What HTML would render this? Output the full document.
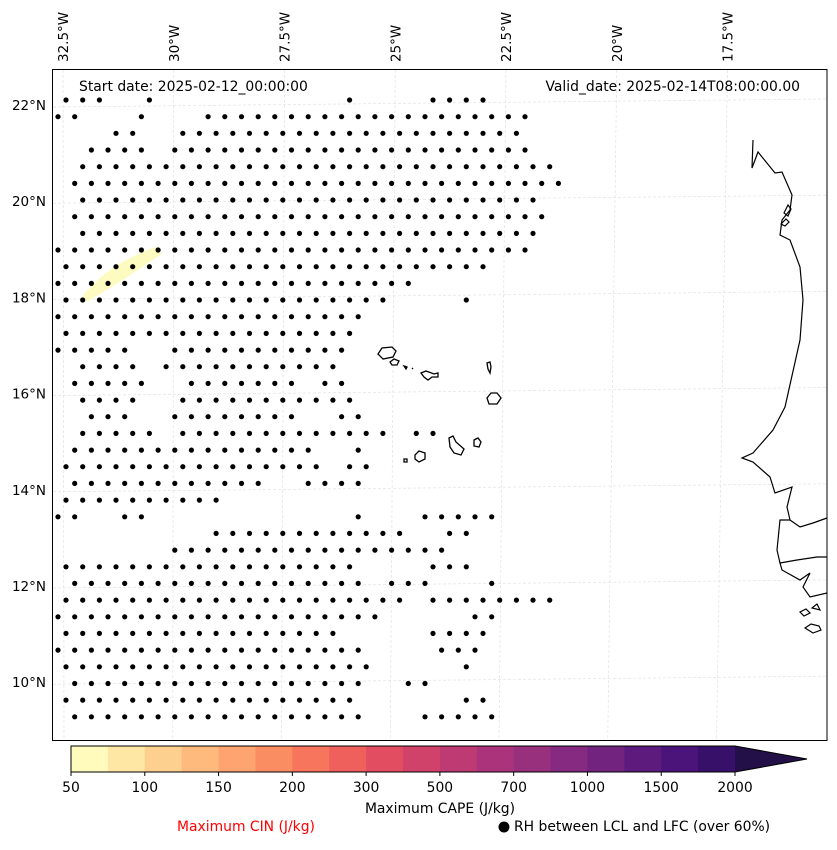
<!DOCTYPE html>
<html><head><meta charset="utf-8">
<style>
body{margin:0;background:#fff;}
svg text{font-family:"DejaVu Sans","Liberation Sans",sans-serif;}
</style></head>
<body>
<svg id="chart" width="837" height="845" viewBox="0 0 837 845" xmlns="http://www.w3.org/2000/svg">
<g id="grid" stroke="#e2e2e2" stroke-width="0.7" stroke-dasharray="3,2" fill="none"></g>
<path d="M88,298 C100,290 115,282 128,273 C140,265 150,258 158,253 L156,250 C140,256 125,263 112,272 C100,281 92,290 86,296 Z" fill="#fdfbc0" stroke="#fdfbc0" stroke-width="6" stroke-linejoin="round"/>
<g id="dots" fill="#000"></g>
<g fill="none" stroke="#000" stroke-width="1.2">
<path d="M753,140 L752,168 L758,152 L775,173 L782,172 L792,195 L790,210 L782,220 L780,235 L790,240 L800,267 L803,300 L800,340 L785,407 L773,430 L753,453 L742,458 L753,462 L770,477 L775,493 L792,487 L787,507 L790,520 L800,527 L813,523 L827,518"/>
<path d="M790,520 L780,520 L777,550 L780,563 L797,560 L817,557 L827,557"/>
<path d="M780,563 L782,570 L800,580 L810,573 L803,587 L810,597 L827,593"/>
<path d="M800,612 l6,-3 l4,4 l-6,3z M812,608 l5,-4 l3,6z M805,628 l6,-4 l8,2 l2,4 l-8,3z"/>
<path d="M784,213 l4,-8 l3,4 l-3,7z M781,224 l5,-5 l3,3 l-4,4z"/>
</g>
<g fill="none" stroke="#000" stroke-width="1.3">
<path d="M378,354 l4,-6 l10,-1 l4,4 l-3,6 l-10,2z"/>
<path d="M390,362 l4,-3 l5,2 l-2,4 l-5,0z"/>
<path d="M404,366 l3,1 l-1,2z M412,368 l1,1z"/>
<path d="M421,373 l5,-2 l8,3 l4,-1 l0,4 l-6,0 l-4,3 l-4,-3z"/>
<path d="M487,363 l3,-1 l1,5 l-1,6 l-2,-4z"/>
<path d="M487,398 l4,-5 l6,0 l4,5 l-4,6 l-8,0z"/>
<path d="M449,438 l4,-2 l3,6 l8,7 l-3,6 l-7,-2 l-4,-6z"/>
<path d="M474,440 l4,-2 l3,4 l-2,5 l-5,-1z"/>
<path d="M415,455 l4,-4 l6,2 l0,6 l-6,3 l-4,-3z"/>
<path d="M404,459 l3,0 l0,3 l-3,0z"/>
</g>
<rect x="52.5" y="69.5" width="774.5" height="671" fill="none" stroke="#000" stroke-width="1"/>
<g id="lonlabels" font-size="13.5" fill="#000"></g>
<g id="latlabels" font-size="13.5" fill="#000"></g>
<text x="79" y="91" font-size="13.9">Start date: 2025-02-12_00:00:00</text>
<text x="800" y="91" font-size="13.9" text-anchor="end">Valid_date: 2025-02-14T08:00:00.00</text>
<g id="cbar"></g>
<text x="440" y="813" font-size="13.9" text-anchor="middle">Maximum CAPE (J/kg)</text>
<text x="246" y="831" font-size="13.9" fill="#ff0000" text-anchor="middle">Maximum CIN (J/kg)</text>
<circle cx="504" cy="827" r="5.5" fill="#000"/>
<text x="514" y="831" font-size="13.9">RH between LCL and LFC (over 60%)</text>
</svg>
<script>
const NS="http://www.w3.org/2000/svg";
const rowRanges=[
[[66,100],[150,150],[350,350],[433,483]],
[[58,75],[141,141],[208,533]],
[[116,133],[183,516]],
[[91,141],[175,533]],
[[83,550]],
[[75,558]],
[[83,541]],
[[75,541]],
[[83,533]],
[[58,525]],
[[66,483]],
[[58,408]],
[[66,391],[466,466]],
[[58,366]],
[[66,350]],
[[58,125],[175,350]],
[[75,141],[166,341]],
[[75,141],[191,291],[325,341]],
[[83,141],[183,333],[350,358]],
[[91,125],[175,300],[341,358]],
[[83,150],[183,383],[416,433]],
[[75,316],[350,366]],
[[66,316],[350,366]],
[[66,266],[300,366]],
[[66,216]],
[[58,75],[125,141],[350,366],[425,491]],
[[208,408],[441,466]],
[[175,441]],
[[66,358],[375,375],[433,466]],
[[75,358],[391,425],[491,491]],
[[66,400],[433,500],[516,550]],
[[58,375],[466,491]],
[[66,333],[433,491]],
[[58,366],[441,483]],
[[66,366],[466,475]],
[[75,366],[408,425]],
[[66,358],[458,491]],
[[75,358],[425,491]]
];
const latTicks=["22°N","20°N","18°N","16°N","14°N","12°N","10°N"];
const latVals=[22,20,18,16,14,12,10];
const lonTicks=["32.5°W","30°W","27.5°W","25°W","22.5°W","20°W","17.5°W"];
const lonVals=[-32.5,-30,-27.5,-25,-22.5,-20,-17.5];
const cbarBounds=[50,75,100,125,150,175,200,250,300,400,500,600,700,800,1000,1250,1500,1750,2000];
const cbarLabels=[50,100,150,200,300,500,700,1000,1500,2000];
const cbarColors=["#fefbbd","#fee6a5","#fed08f","#feba7c","#fea470","#fb8d62","#f7755c","#ef5f5c","#e24d61","#d1426a","#be3a73","#ab337b","#98307e","#852a80","#72237f","#5e1b7e","#4b147a","#361069","#231049"];

const yLat=v=>105+(22-v)*48.1;
const xLon=v=>63+(v+32.5)*44.3;
const dotStep=16.68;
const rowY=i=>100+i*16.67;
const dots=document.getElementById('dots');
rowRanges.forEach((ranges,i)=>{
  const off=(i%2===0)?66:58;
  ranges.forEach(([a,b])=>{
    let k=Math.round((a-off)/dotStep);
    for(;;k++){
      const x=off+k*dotStep;
      if(x>b+3) break;
      if(x<a-3) continue;
      const c=document.createElementNS(NS,'circle');
      c.setAttribute('cx',x.toFixed(1));c.setAttribute('cy',rowY(i).toFixed(1));c.setAttribute('r','2.6');
      
      
      dots.appendChild(c);
    }
  });
});
const grid=document.getElementById('grid');
lonVals.forEach(v=>{
  const x=xLon(v);
  const l=document.createElementNS(NS,'line');
  l.setAttribute('x1',x);l.setAttribute('y1',70);l.setAttribute('x2',x-(v+25)*0.8-5);l.setAttribute('y2',740);
  
  
  grid.appendChild(l);
});
latVals.forEach(v=>{
  const y=yLat(v);
  const l=document.createElementNS(NS,'line');
  l.setAttribute('x1',53);l.setAttribute('y1',y+2);l.setAttribute('x2',827);l.setAttribute('y2',y-6);
  
  
  grid.appendChild(l);
});
const lonG=document.getElementById('lonlabels');
lonVals.forEach((v,i)=>{
  const x=xLon(v)+5,y=62;
  const t=document.createElementNS(NS,'text');
  t.setAttribute('transform',`translate(${x},${y}) rotate(-90)`);
  t.textContent=lonTicks[i];
  
  
  lonG.appendChild(t);
});
const latG=document.getElementById('latlabels');
latVals.forEach((v,i)=>{
  const t=document.createElementNS(NS,'text');
  t.setAttribute('x',46);t.setAttribute('y',yLat(v)+5);t.setAttribute('text-anchor','end');
  t.textContent=latTicks[i];
  
  
  latG.appendChild(t);
});
const cb=document.getElementById('cbar');
const cx0=71,cw=664/(cbarBounds.length-1),cy=746,ch=26;
const cbX=v=>cx0+cbarBounds.indexOf(v)*cw;
for(let i=0;i<cbarBounds.length-1;i++){
  const r=document.createElementNS(NS,'rect');
  r.setAttribute('x',cbX(cbarBounds[i]));r.setAttribute('y',cy);r.setAttribute('width',cw+0.5);r.setAttribute('height',ch);
  r.setAttribute('fill',cbarColors[i]);
  
  
  cb.appendChild(r);
}
const tri=document.createElementNS(NS,'path');
const xe=cbX(2000);
tri.setAttribute('d',`M${xe},${cy} L${xe+72},${cy+ch/2} L${xe},${cy+ch} Z`);
tri.setAttribute('fill',cbarColors[cbarColors.length-1]);


cb.appendChild(tri);
const out=document.createElementNS(NS,'path');
out.setAttribute('d',`M${cx0},${cy} L${xe},${cy} L${xe+72},${cy+ch/2} L${xe},${cy+ch} L${cx0},${cy+ch} Z`);
out.setAttribute('fill','none');out.setAttribute('stroke','#000');out.setAttribute('stroke-width','1');


cb.appendChild(out);
cbarLabels.forEach(v=>{
  const x=cbX(v);
  const l=document.createElementNS(NS,'line');
  l.setAttribute('x1',x);l.setAttribute('x2',x);l.setAttribute('y1',cy+ch);l.setAttribute('y2',cy+ch+4);l.setAttribute('stroke','#000');
  
  
  cb.appendChild(l);
  const t=document.createElementNS(NS,'text');
  t.setAttribute('x',x);t.setAttribute('y',cy+ch+20);t.setAttribute('text-anchor','middle');t.setAttribute('font-size','13.9');
  t.textContent=v;
  
  
  cb.appendChild(t);
});
</script>
</body></html>
